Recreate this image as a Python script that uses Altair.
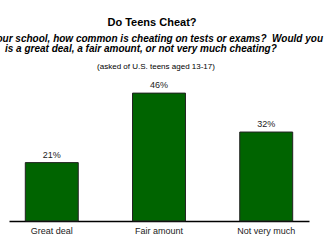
import altair as alt
import pandas as pd

categories = ["Great deal", "Fair amount", "Not very much"]
values = [21, 46, 32]
labels = ["21%", "46%", "32%"]

title_text = "Do Teens Cheat?"
question_line1 = "At your school, how common is cheating on tests or exams?\u00a0\u00a0Would you"
question_line2 = "is a great deal, a fair amount, or not very much cheating?"
note_text = "(asked of U.S. teens aged 13-17)"

df = pd.DataFrame({"cat": categories, "val": values, "lab": labels})

FONT = "Liberation Sans"

x = alt.X("cat:N", sort=categories,
          scale=alt.Scale(paddingInner=0.506, paddingOuter=0.152),
          axis=alt.Axis(title=None, labelAngle=0, ticks=False, domainColor="#000000",
                        domainWidth=1.5, labelFont=FONT, labelFontSize=9,
                        labelColor="#222222", labelPadding=5, grid=False))
y = alt.Y("val:Q", scale=alt.Scale(domain=[0, 50], nice=False), axis=None)

bars = alt.Chart(df).mark_bar(color="#006400", stroke="#222222", strokeWidth=1).encode(x=x, y=y)
texts = alt.Chart(df).mark_text(baseline="bottom", dy=-3, font=FONT, fontSize=9,
                                color="#222222").encode(x=alt.X("cat:N", sort=categories), y=y, text="lab:N")

def txt(s, xv, yv, align, size, weight="normal", style="normal"):
    return alt.Chart(pd.DataFrame({"t": [s]})).mark_text(
        align=align, baseline="middle", font=FONT, fontSize=size,
        fontWeight=weight, fontStyle=style, color="#000000"
    ).encode(x=alt.value(xv), y=alt.value(yv), text="t:N")

t1 = txt(title_text, 143, -59, "center", 11, "bold")
t2 = txt(question_line1, 314, -43, "right", 10, "bold", "italic")
t3 = txt(question_line2, -4, -33, "left", 10, "bold", "italic")
t4 = txt(note_text, 147, -15, "center", 8)

chart = alt.layer(bars, texts, t1, t2, t3, t4).properties(
    width=300, height=139,
    autosize=alt.AutoSizeParams(type="none"),
    padding={"left": 9, "top": 82, "right": 17, "bottom": 24},
    background="white",
).configure_view(stroke=None)

chart.save("out.html", embed_options={"renderer": "svg", "actions": False})
